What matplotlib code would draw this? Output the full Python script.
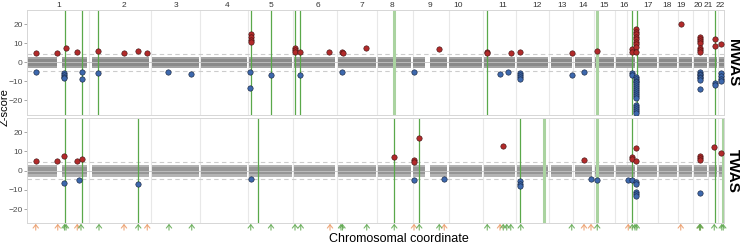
# -*- coding: utf-8 -*-

import matplotlib
matplotlib.use('Agg')
import matplotlib.pyplot as plt
import matplotlib.transforms as mtransforms

plt.rcParams['font.family'] = ['Liberation Sans', 'DejaVu Sans']

#%% data  (x = cumulative genome position, Mb)
chroms = [str(i) for i in range(1, 23)]
chrom_mid = [128, 388, 596, 800, 976, 1164, 1340, 1460, 1612, 1724, 1904,
             2040, 2140, 2224, 2308, 2388, 2484, 2560, 2616, 2684, 2724, 2772]
chrom_bounds = [249, 494, 692, 885, 1065, 1239, 1400, 1543, 1686, 1825, 1955,
                2088, 2185, 2266, 2352, 2399, 2438, 2522, 2602, 2662, 2722, 2763]
x_max = 2788

# stretches covered by probes / genes (grey background cloud)
seg_start = [4, 140, 260, 500, 696, 888, 1068, 1244, 1404, 1544, 1612, 1688,
             1828, 1960, 2096, 2192, 2272, 2356, 2440, 2528, 2608, 2668, 2728, 2768]
seg_end = [120, 240, 488, 688, 880, 1060, 1232, 1396, 1536, 1592, 1680, 1820,
           1952, 2084, 2180, 2260, 2348, 2432, 2520, 2600, 2660, 2720, 2760, 2788]

mwas_thr = 4.6
twas_thr = 4.4

# MWAS significant hits
mwas_pos_x = [35, 121, 155, 199, 285, 388, 445, 481,
              895, 895, 895, 895, 1072, 1072, 1072, 1093, 1209, 1259, 1265, 1356,
              1649, 1839, 1839, 1936, 1972, 2179, 2279, 2419, 2419,
              2436, 2436, 2436, 2436, 2436, 2436, 2436, 2436, 2436,
              2615, 2692, 2692, 2692, 2692, 2692, 2692, 2692,
              2752, 2752, 2776]
mwas_pos_z = [4.7, 4.7, 7.7, 5.3, 5.9, 4.7, 5.9, 4.7,
              14.7, 13.2, 11.9, 10.7, 7.4, 6.5, 5.6, 5.6, 5.3, 5.3, 4.7, 7.4,
              6.8, 5.6, 4.7, 5.1, 5.3, 5.1, 5.9, 6.8, 5.6,
              17.4, 15.8, 14.7, 13.5, 12.1, 10.9, 9.5, 8.3, 5.6,
              20.2, 13.5, 12.3, 11.2, 10.0, 7.5, 6.5, 5.2,
              12.1, 8.6, 9.5]
mwas_neg_x = [35, 149, 149, 149, 149, 219, 219, 285, 565, 656, 893, 893, 975,
              1093, 1259, 1549, 1892, 1925, 1972, 1972, 1972, 1972, 2179, 2229,
              2419, 2419,
              2436, 2436, 2436, 2436, 2436, 2436, 2436, 2436, 2436, 2436, 2436,
              2436, 2436, 2436, 2436, 2436, 2436,
              2692, 2692, 2692, 2692, 2692, 2692, 2692,
              2752, 2752, 2776, 2776, 2776, 2776]
mwas_neg_z = [-5.3, -5.5, -6.7, -7.6, -8.4, -5.2, -8.7, -5.5, -5.2, -6.3, -5.3, -13.7, -6.7,
              -6.7, -5.2, -5.3, -6.2, -5.3, -5.5, -6.7, -7.9, -8.8, -6.7, -5.2,
              -5.5, -6.7,
              -7.6, -8.6, -9.6, -10.6, -11.6, -12.6, -13.6, -14.6, -15.6, -16.6, -17.6,
              -18.8, -22.5, -23.6, -24.7, -25.8, -26.8,
              -5.2, -6.0, -6.8, -7.5, -8.3, -9.3, -14.0,
              -11.0, -12.0, -5.5, -7.0, -8.6, -9.7]

# TWAS significant hits
twas_pos_x = [35, 121, 149, 199, 219, 1468, 1548, 1548, 1569, 1905, 2228,
              2419, 2419, 2436, 2436, 2692, 2692, 2692, 2749, 2776]
twas_pos_z = [4.8, 4.8, 7.6, 4.8, 6.2, 7.0, 5.3, 4.5, 17.0, 13.0, 5.3,
              6.9, 6.1, 11.8, 5.2, 7.8, 6.6, 5.3, 12.1, 9.2]
twas_neg_x = [149, 208, 445, 895, 1548, 1669, 1972, 1972, 1972, 2255, 2279,
              2405, 2419, 2436, 2436, 2436, 2436, 2436, 2692]
twas_neg_z = [-6.4, -4.7, -6.7, -4.1, -4.6, -4.3, -5.5, -6.7, -7.8, -4.3, -4.8,
              -4.7, -4.7, -5.9, -6.7, -11.2, -12.0, -13.0, -11.8]

# highlighted loci (green lines)
mwas_lines = [152, 220, 284, 895, 975, 1072, 1093, 1840, 2420, 2440, 2752]
mwas_lines_faint = [1468, 2280]
twas_lines = [150, 219, 445, 925, 1468, 1569, 1972, 2419, 2752]
twas_lines_faint = [2068, 2280, 2784]

# known loci markers under the plot
known_orange = [35, 123, 201, 388, 481, 1212, 1548, 1669, 1892, 2228, 2256,
                2405, 2615, 2692]
known_green = [150, 156, 216, 288, 445, 568, 659, 895, 976, 1072, 1095, 1256,
               1262, 1359, 1469, 1569, 1649, 1841, 1905, 1919, 1935, 1975, 2179,
               2281, 2421, 2432, 2439, 2690, 2694, 2749, 2779, 2785]

#%% plot
red = '#b22a2a'
blue = '#3d68ad'
green = '#5aa84a'
green_faint = '#aad3a0'

fig = plt.figure(figsize=(7.4, 2.45), dpi=100)
ax1 = fig.add_axes([27/740, 1 - 115/245, 697/740, 105/245])
ax2 = fig.add_axes([27/740, 1 - 223/245, 697/740, 105/245])

panels = [(ax1, mwas_thr, mwas_lines, mwas_lines_faint, mwas_pos_x, mwas_pos_z,
           mwas_neg_x, mwas_neg_z, (-27.7, 27.5), ('#a4a4a4', '#8a8a8a'), 'MWAS'),
          (ax2, twas_thr, twas_lines, twas_lines_faint, twas_pos_x, twas_pos_z,
           twas_neg_x, twas_neg_z, (-27.1, 27.3), ('#b4b4b4', '#969696'), 'TWAS')]

for ax, thr, lines, lines_f, px, pz, nx, nz, ylim, greys, name in panels:
    for b in chrom_bounds:
        ax.axvline(b, color='#e8e8e8', lw=0.8, zorder=0)
    for s, e in zip(seg_start, seg_end):
        ax.fill_between([s, e], -3.2, 3.0, color=greys[0], lw=0, zorder=1)
        ax.fill_between([s, e], -1.9, 1.7, color=greys[1], lw=0, zorder=1)
    ax.axhline(0, color='#c4c4c4', lw=0.6, zorder=1.5)
    for t in (thr, -thr):
        ax.axhline(t, color='#cccccc', lw=0.8, ls=(0, (4, 3)), zorder=2)
    for v in lines_f:
        ax.axvline(v, color=green_faint, lw=2.2, zorder=2)
    for v in lines:
        ax.axvline(v, color=green, lw=0.9, zorder=2)
    ax.scatter(px, pz, s=15, color=red, edgecolor='#3a1010', lw=0.4, zorder=4)
    ax.scatter(nx, nz, s=15, color=blue, edgecolor='#101c33', lw=0.4, zorder=4)

    ax.set_xlim(0, x_max)
    ax.set_ylim(*ylim)
    ax.set_yticks([-20, -10, 0, 10, 20])
    ax.tick_params(axis='y', length=2, width=0.6, color='#999999',
                   labelsize=6, labelcolor='#4d4d4d', pad=1)
    for sp in ax.spines.values():
        sp.set_color('#d6d6d6')
        sp.set_linewidth(0.7)
    ax.text(1.013, 0.5, name, transform=ax.transAxes, rotation=-90,
            ha='center', va='center', fontsize=11, fontweight='bold')

ax1.xaxis.tick_top()
ax1.set_xticks(chrom_mid)
ax1.set_xticklabels(chroms)
ax1.tick_params(axis='x', length=0, labelsize=6, labelcolor='#333333', pad=1)
ax2.set_xticks([])

# known-loci arrows below the lower panel
trans = mtransforms.blended_transform_factory(ax2.transData, ax2.transAxes)
for xs, col in ((known_orange, '#eb9a66'), (known_green, '#5fa84f')):
    for x in xs:
        ax2.annotate('', xy=(x, -0.008), xytext=(x, -0.068), xycoords=trans,
                     textcoords=trans, annotation_clip=False,
                     arrowprops=dict(arrowstyle='->,head_length=0.2,head_width=0.16',
                                     mutation_scale=12, color=col, lw=0.8,
                                     alpha=0.85, shrinkA=0, shrinkB=0))

fig.text(5/740, 1 - 107/245, 'Z-score', rotation=90, ha='center', va='center',
         fontsize=8)
fig.text(399/740, 1 - 239/245, 'Chromosomal coordinate', ha='center',
         va='center', fontsize=9)

plt.savefig('out.png', dpi=100)
